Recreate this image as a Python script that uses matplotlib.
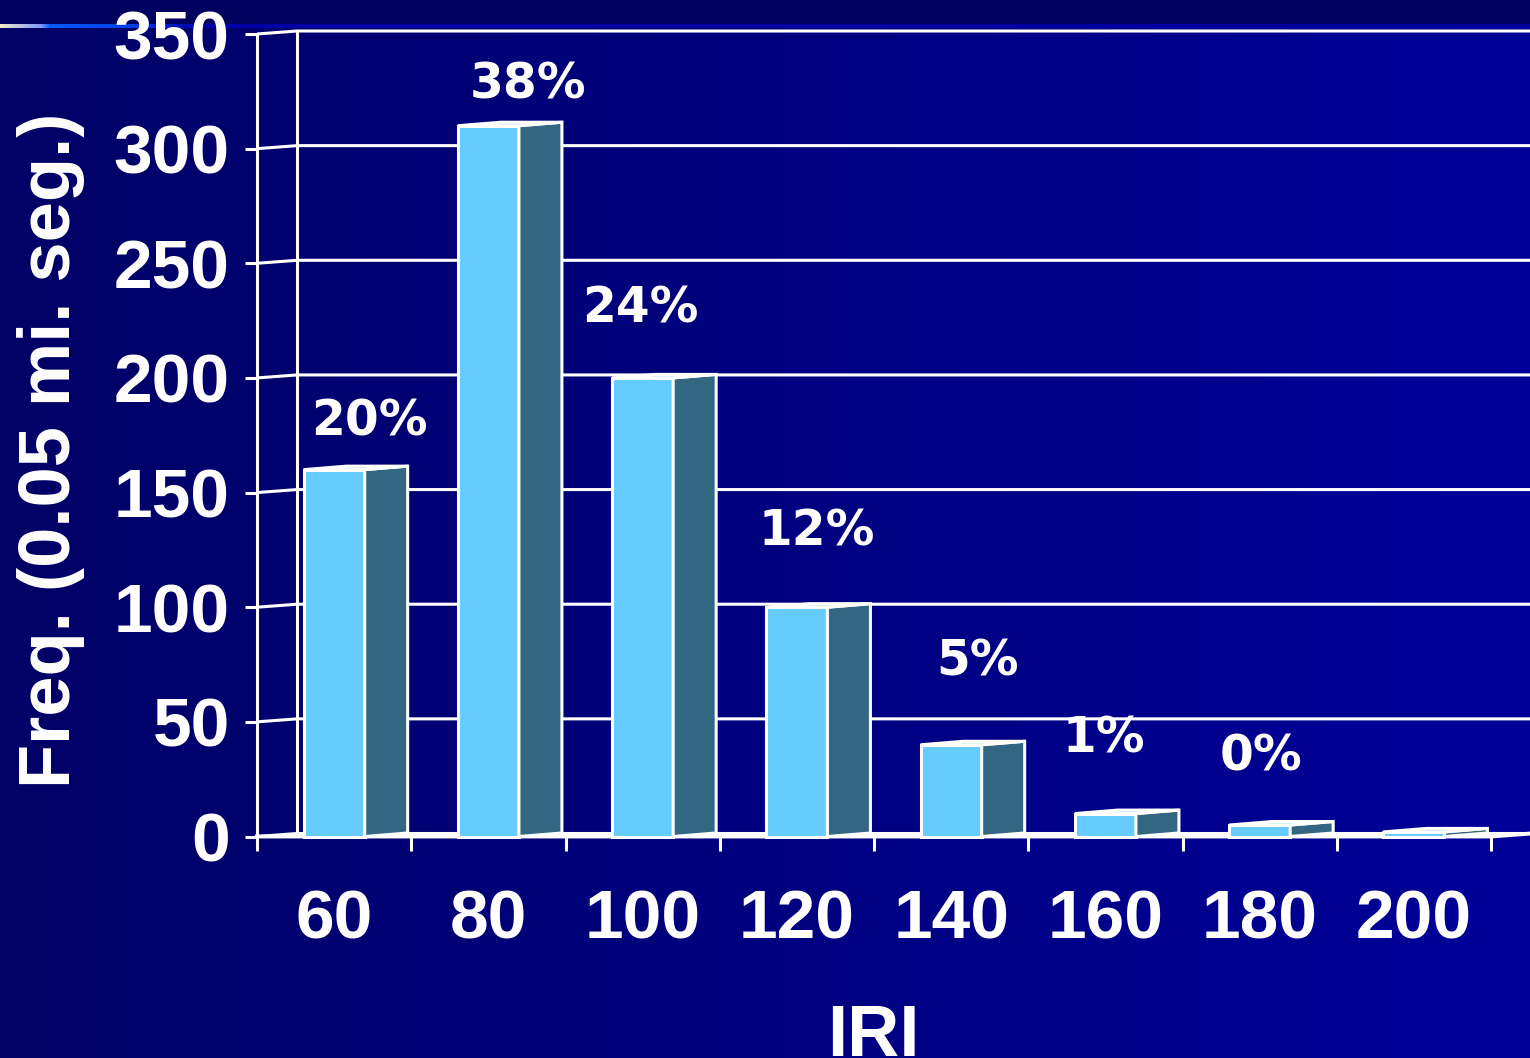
import numpy as np
import matplotlib.pyplot as plt
from matplotlib.patches import Polygon

# IRI histogram data
categories = ['60', '80', '100', '120', '140', '160', '180', '200']
freq = [160, 310, 200, 100, 40, 10, 5, 2]
pct_labels = ['20%', '38%', '24%', '12%', '5%', '1%', '0%']
yticks = [0, 50, 100, 150, 200, 250, 300, 350]

# placement of the percentage labels (shift in category widths, baseline in data units)
label_shift = [0.226, 0.257, -0.017, 0.130, 0.168, -0.009, 0.009]
label_base = [175, 322, 224, 127, 70, 36.5, 29]

W, H = 1530, 1058
fig = plt.figure(figsize=(W / 100, H / 100), dpi=100)

# background: dark top band, decorative strip, left-to-right blue gradient
bg = fig.add_axes([0, 0, 1, 1])
bg.axis('off')
img = np.zeros((H, W, 3))
xs = np.linspace(0, 1, W)
img[:, :, 2] = (0x66 + (0x99 - 0x66) * xs)[None, :] / 255
img[:24, :, 2] = 0x5e / 255
px = np.arange(W)
stops = [0, 40, 50, 130, 200, W]
strip = np.stack([
    np.interp(px, stops, [0.94, 0.50, 0.00, 0.00, 0.00, 0.00]),
    np.interp(px, stops, [0.92, 0.60, 0.35, 0.25, 0.00, 0.00]),
    np.interp(px, stops, [0.78, 1.00, 1.00, 0.90, 0.66, 0.62]),
], axis=1)
img[24:28, :, :] = strip[None, :, :]
bg.imshow(img, extent=(0, W, H, 0), aspect='auto', interpolation='nearest')
bg.set_xlim(0, W)
bg.set_ylim(H, 0)

# main axes: front plane of the pseudo-3D chart
cat_px = 154.25
x0, x1 = 257, 1531
y_zero, y_top = 836.5, 34
ax = fig.add_axes([x0 / W, (H - y_zero) / H, (x1 - x0) / W, (y_zero - y_top) / H])
ax.set_facecolor('none')
n = len(categories)
xmax = (x1 - x0) / cat_px
ax.set_xlim(0, xmax)
ax.set_ylim(0, 350)
ppu = (y_zero - y_top) / 350

dxw, dyw = 40 / cat_px, 3 / ppu      # wall depth
dxb, dyb = 43 / cat_px, 3.5 / ppu    # bar depth
lw = 2.2

for s in ['top', 'right', 'bottom']:
    ax.spines[s].set_visible(False)
ax.spines['left'].set_color('white')
ax.spines['left'].set_linewidth(lw)

# gridlines running back along the wall
for v in yticks:
    ax.plot([0, dxw, xmax], [v, v + dyw, v + dyw], color='white', lw=lw,
            clip_on=False, zorder=1, solid_capstyle='butt')
ax.plot([dxw, dxw], [dyw, 350 + dyw], color='white', lw=lw, clip_on=False, zorder=1)
ax.plot([0, n, n + dxw], [0, 0, dyw], color='white', lw=lw + 0.6, clip_on=False, zorder=2)

# bars with front, side and top faces
for i, v in enumerate(freq):
    xl = i + 0.5 - 0.198
    xr = i + 0.5 + 0.198
    faces = [
        ([(xl, 0), (xr, 0), (xr, v), (xl, v)], '#66CCFF'),
        ([(xr, 0), (xr + dxb, dyb), (xr + dxb, v + dyb), (xr, v)], '#336680'),
        ([(xl, v), (xr, v), (xr + dxb, v + dyb), (xl + dxb, v + dyb)], '#99DDFF'),
    ]
    for pts, c in faces:
        ax.add_patch(Polygon(pts, closed=True, facecolor=c, edgecolor='white',
                             lw=2.2, joinstyle='miter', clip_on=False, zorder=3))

for i, lab in enumerate(pct_labels):
    ax.text(i + 0.5 + label_shift[i], label_base[i], lab, ha='center', va='baseline',
            color='white', fontsize=35, fontweight='bold', family='DejaVu Sans',
            zorder=4)

tick_font = dict(family='Liberation Sans', weight='bold', size=50)
ax.set_yticks(yticks)
ax.set_yticklabels([str(v) for v in yticks], **tick_font)
ax.tick_params(axis='y', colors='white', length=8.6, width=lw, pad=11, direction='out')

ax.set_xticks(np.arange(n) + 0.5)
ax.set_xticklabels(categories, **tick_font)
ax.set_xticks(np.arange(n + 1), minor=True)
ax.tick_params(axis='x', which='major', length=0, pad=37.5, colors='white')
ax.tick_params(axis='x', which='minor', length=10, width=lw, colors='white', direction='out')

fig.text(51 / W, 1 - 450 / H, 'Freq. (0.05 mi. seg.)', rotation=90, ha='center', va='center',
         color='white', family='Liberation Sans', weight='bold', size=52)
fig.text(873 / W, 1 - 1056 / H, 'IRI', ha='center', va='baseline',
         color='white', family='Liberation Sans', weight='bold', size=52)

fig.savefig('out.png', dpi=100)
